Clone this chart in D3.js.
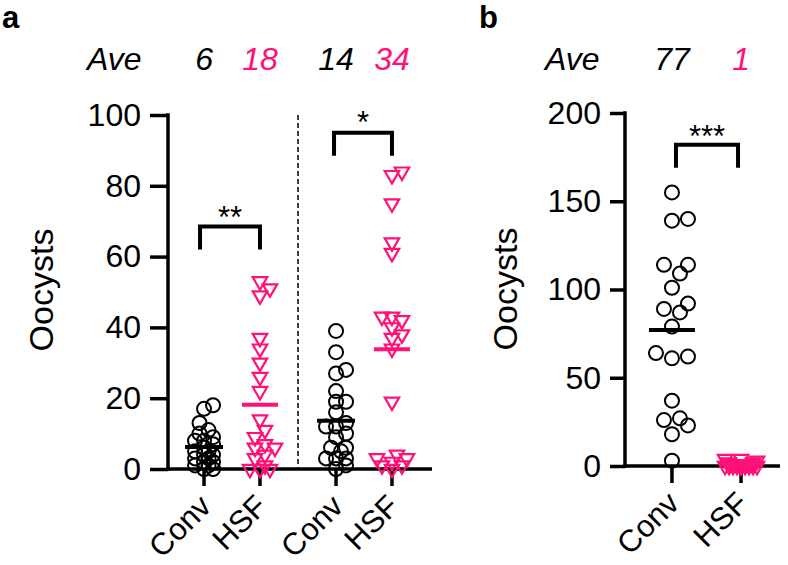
<!DOCTYPE html>
<html>
<head>
<meta charset="utf-8">
<script src="https://cdn.jsdelivr.net/npm/d3@7"></script>
<style>
body { margin: 0; background: #fff; }
text { font-family: "Liberation Sans", Arial, sans-serif; fill: #000; }
</style>
</head>
<body>
<div id="chart"></div>
<script>
var pink = "#ff1177";

// panel a data
var groupsA = ["left", "right"];
var catsA = ["Conv", "HSF"];
var conv1 = [18, 17, 13, 11, 10, 9, 8, 8, 7, 6, 5, 5, 4, 4, 3, 3, 2, 2, 1, 1, 0, 0];
var hsf1 = [53, 51, 49, 37, 34, 30, 26, 22, 14, 11, 9, 7, 6, 6, 3, 4, 0, 0, 0, 1];
var conv2 = [39, 33, 27, 28, 22, 19, 19, 16, 13, 12, 12, 10, 9, 6, 6, 5, 3, 3, 3, 1, 0];
var hsf2 = [84, 83, 75, 64, 61, 43, 43, 42, 40, 38, 37, 34, 19, 4, 3, 3, 2, 1, 1, 0];
var ticksA = [0, 20, 40, 60, 80, 100];
var aveA = ["6", "18", "14", "34"];
var starsA = ["**", "*"];
var bracketA = [[62, 68.5], [88.5, 95]];

// panel b data
var catsB = ["Conv", "HSF"];
var convB = [155, 140, 139, 114, 114, 109, 101, 92, 89, 87, 79, 61, 62, 64, 37, 26, 27, 23, 18, 3];
var hsfB = [4, 4, 3, 2, 2, 1, 1, 1, 1, 0, 0, 0, 0, 0, 0, 0, 0, 0, 0, 0, 1];
var ticksB = [0, 50, 100, 150, 200];
var aveB = ["77", "1"];
var starsB = "***";
var bracketB = [169, 182];

var svg = d3.select("#chart").append("svg")
  .attr("width", 788)
  .attr("height", 565);

// simple dodge so points in the same row spread sideways
function swarm(values, y, dmin, maxOff) {
  var placed = [];
  var off = [];
  var order = values.map(function(v, i) { return i; })
    .sort(function(a, b) { return values[a] - values[b]; });
  var n = Math.floor(maxOff / (dmin / 2));
  order.forEach(function(i) {
    var py = y(values[i]);
    var best = 0, bestD = -1;
    for (var k = 0; k <= 2 * n; k++) {
      var o = (k % 2 ? 1 : -1) * Math.ceil(k / 2) * dmin / 2;
      var md = 1e9;
      placed.forEach(function(p) {
        var d = Math.hypot(p[0] - o, p[1] - py);
        if (d < md) md = d;
      });
      if (md >= dmin) { best = o; bestD = md; break; }
      if (md > bestD) { bestD = md; best = o; }
    }
    placed.push([best, py]);
    off[i] = best;
  });
  return off;
}

function yAxis(y, ticks, x0, tick) {
  var g = svg.append("g").attr("transform", "translate(" + x0 + ",0)");
  g.call(d3.axisLeft(y).tickValues(ticks).tickSize(tick).tickPadding(9));
  g.select(".domain").remove();
  g.selectAll(".tick line").attr("stroke", "#000").attr("stroke-width", 3.5);
  g.selectAll(".tick text").attr("font-size", 32).attr("font-family", "Liberation Sans, Arial, sans-serif");
  g.append("line")
    .attr("y1", y(ticks[ticks.length - 1]) - 1.75)
    .attr("y2", y(0) + 1.75)
    .attr("stroke", "#000").attr("stroke-width", 3.5);
}

function xAxis(xs, labels, y0, x1, x2) {
  svg.append("line")
    .attr("x1", x1).attr("x2", x2)
    .attr("y1", y0).attr("y2", y0)
    .attr("stroke", "#000").attr("stroke-width", 3.5);
  xs.forEach(function(x, i) {
    svg.append("line")
      .attr("x1", x).attr("x2", x)
      .attr("y1", y0).attr("y2", y0 + 17)
      .attr("stroke", "#000").attr("stroke-width", 3.5);
    svg.append("text")
      .attr("transform", "translate(" + (x + 9) + "," + (y0 + 39) + ") rotate(-45)")
      .attr("text-anchor", "end")
      .attr("font-size", 31)
      .text(labels[i]);
  });
}

function dots(values, cx, y, dmin, maxOff) {
  var off = swarm(values, y, dmin, maxOff);
  svg.append("g").selectAll("circle")
    .data(values)
    .enter().append("circle")
    .attr("cx", function(d, i) { return cx + off[i]; })
    .attr("cy", function(d) { return y(d); })
    .attr("r", 7)
    .attr("fill", "none")
    .attr("stroke", "#000")
    .attr("stroke-width", 2);
}

var tri = d3.symbol().type(d3.symbolTriangle).size(90);

function tris(values, cx, y, dmin, maxOff) {
  var off = swarm(values, y, dmin, maxOff);
  svg.append("g").selectAll("path")
    .data(values)
    .enter().append("path")
    .attr("d", tri)
    .attr("transform", function(d, i) {
      return "translate(" + (cx + off[i]) + "," + y(d) + ") rotate(180)";
    })
    .attr("fill", "none")
    .attr("stroke", pink)
    .attr("stroke-width", 2.2);
}

function mean(values, cx, y, color, half) {
  var m = d3.mean(values);
  svg.append("line")
    .attr("x1", cx - half).attr("x2", cx + half)
    .attr("y1", y(m)).attr("y2", y(m))
    .attr("stroke", color).attr("stroke-width", 4);
}

function bracket(xa, xb, y, b, stars, ty) {
  svg.append("path")
    .attr("d", "M" + xa + "," + y(b[0]) + "V" + y(b[1]) + "H" + xb + "V" + y(b[0]))
    .attr("fill", "none")
    .attr("stroke", "#000")
    .attr("stroke-width", 4);
  svg.append("text")
    .attr("x", (xa + xb) / 2)
    .attr("y", ty)
    .attr("text-anchor", "middle")
    .attr("font-size", 31)
    .text(stars);
}

// ---------- panel a ----------
var yA = d3.scaleLinear().domain([0, 100]).range([469, 115]);
var gx = d3.scaleBand().domain(groupsA).range([166, 430]);
var ix = d3.scalePoint().domain(catsA).range([0, gx.bandwidth()]).padding(0.68);
var xA = [];
groupsA.forEach(function(g) {
  catsA.forEach(function(c) { xA.push(gx(g) + ix(c)); });
});

yAxis(yA, ticksA, 168, 18);
xAxis(xA, catsA.concat(catsA), 469, 166, 432);

svg.append("line")
  .attr("x1", gx("right")).attr("x2", gx("right"))
  .attr("y1", yA(100)).attr("y2", yA(0))
  .attr("stroke", "#000").attr("stroke-width", 1.5)
  .attr("stroke-dasharray", "5,3");

dots(conv1, xA[0], yA, 9, 12);
tris(hsf1, xA[1], yA, 10, 15);
dots(conv2, xA[2], yA, 10, 12);
tris(hsf2, xA[3], yA, 10, 15);

mean(conv1, xA[0], yA, "#000", 19);
mean(hsf1, xA[1], yA, pink, 18);
mean(conv2, xA[2], yA, "#000", 19);
mean(hsf2, xA[3], yA, pink, 18);

bracket(xA[0] - 4, xA[1], yA, bracketA[0], starsA[0], 228);
bracket(xA[2] - 2, xA[3], yA, bracketA[1], starsA[1], 133);

svg.append("text")
  .attr("x", 2).attr("y", 28)
  .attr("font-size", 31).attr("font-weight", "bold")
  .text("a");

svg.append("text")
  .attr("x", 87).attr("y", 70)
  .attr("font-size", 32).attr("font-style", "italic")
  .text("Ave");

svg.selectAll(".aveA")
  .data(aveA)
  .enter().append("text")
  .attr("x", function(d, i) { return xA[i]; })
  .attr("y", 70)
  .attr("text-anchor", "middle")
  .attr("font-size", 32)
  .attr("font-style", "italic")
  .style("fill", function(d, i) { return i % 2 ? pink : "#000"; })
  .text(function(d) { return d; });

svg.append("text")
  .attr("transform", "translate(53,290) rotate(-90)")
  .attr("text-anchor", "middle")
  .attr("font-size", 34)
  .text("Oocysts");

// ---------- panel b ----------
var yB = d3.scaleLinear().domain([0, 200]).range([466, 113]);
var xB = d3.scalePoint().domain(catsB).range([625, 788]).padding(0.68);

yAxis(yB, ticksB, 625, 15);
xAxis(catsB.map(function(c) { return xB(c); }), catsB, 466, 623, 780);

dots(convB, xB("Conv"), yB, 16, 17);
tris(hsfB, xB("HSF"), yB, 8, 16);

mean(convB, xB("Conv"), yB, "#000", 23);
mean(hsfB, xB("HSF"), yB, pink, 22);

bracket(xB("Conv") + 4, xB("HSF") - 3, yB, bracketB, starsB, 147);

svg.append("text")
  .attr("x", 479).attr("y", 28)
  .attr("font-size", 31).attr("font-weight", "bold")
  .text("b");

svg.append("text")
  .attr("x", 545).attr("y", 70)
  .attr("font-size", 32).attr("font-style", "italic")
  .text("Ave");

svg.selectAll(".aveB")
  .data(aveB)
  .enter().append("text")
  .attr("x", function(d, i) { return xB(catsB[i]); })
  .attr("y", 70)
  .attr("text-anchor", "middle")
  .attr("font-size", 32)
  .attr("font-style", "italic")
  .style("fill", function(d, i) { return i % 2 ? pink : "#000"; })
  .text(function(d) { return d; });

svg.append("text")
  .attr("transform", "translate(517,289) rotate(-90)")
  .attr("text-anchor", "middle")
  .attr("font-size", 34)
  .text("Oocysts");
</script>
</body>
</html>
